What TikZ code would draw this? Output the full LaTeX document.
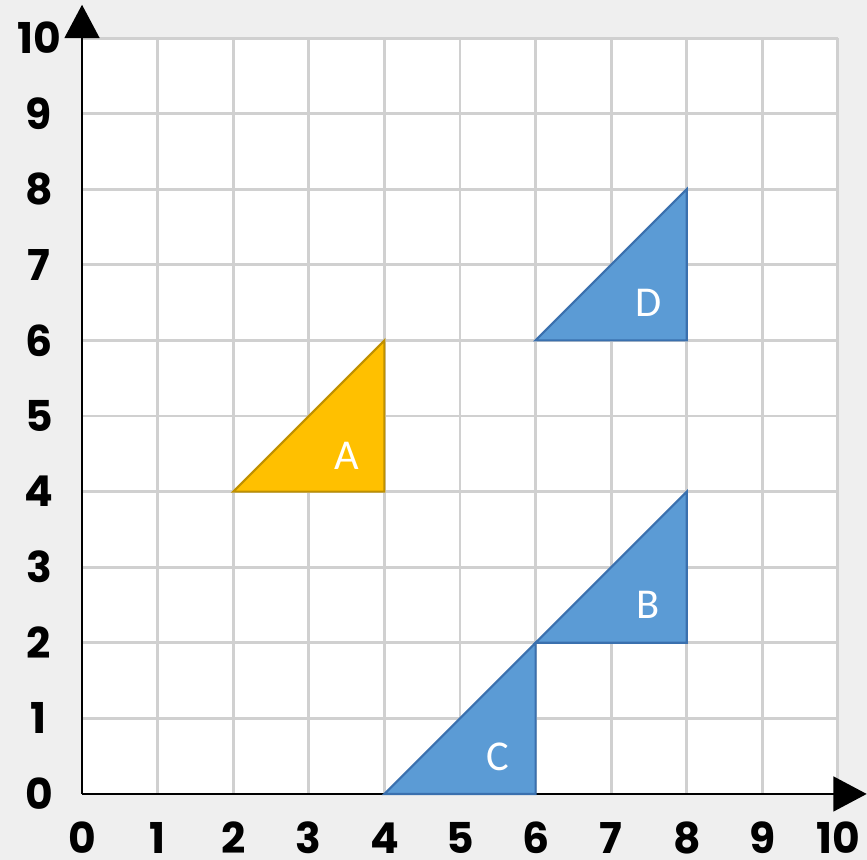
\documentclass[tikz,border=0pt]{standalone}
\usepackage{fontspec}
\setmainfont{Poppins}
\newfontfamily\tagfont{Carlito}
\usetikzlibrary{arrows.meta}
\definecolor{bggray}{HTML}{EFEFEF}
\definecolor{gridgray}{HTML}{D0D0D0}
\definecolor{gold}{HTML}{FFC000}
\definecolor{golddark}{HTML}{BF9000}
\definecolor{steel}{HTML}{5B9BD5}
\definecolor{steeldark}{HTML}{3A70AE}

\begin{document}
\begin{tikzpicture}[
    tick/.style={font=\fontsize{16}{16}\selectfont\bfseries, inner sep=1pt},
    axis/.style={-{Triangle[length=0.44cm,width=0.46cm]}, line width=0.8pt},
    gridline/.style={gridgray, line width=1.1pt},
    yellowtri/.style={fill=gold, draw=golddark, line width=0.8pt},
    bluetri/.style={fill=steel, draw=steeldark, line width=0.8pt},
    tag/.style={text=white, font=\tagfont\fontsize{16}{16}\selectfont}
]
\fill[bggray] (-1.085,-0.873) rectangle (10.384,10.503);
\useasboundingbox (-1.085,-0.873) rectangle (10.384,10.503);
\fill[white] (0,0) rectangle (10,10);
\draw[gridline] (0,0) grid (10,10);

\coordinate (origin) at (0,0);
\coordinate (xtip) at (10.38,0);
\coordinate (ytip) at (0,10.44);
\draw[axis] (origin) -- (xtip);
\draw[axis] (origin) -- (ytip);

\node[tick] (x0) at (0,-0.58) {0};
\node[tick] (x1) at (1,-0.58) {1};
\node[tick] (x2) at (2,-0.58) {2};
\node[tick] (x3) at (3,-0.58) {3};
\node[tick] (x4) at (4,-0.58) {4};
\node[tick] (x5) at (5,-0.58) {5};
\node[tick] (x6) at (6,-0.58) {6};
\node[tick] (x7) at (7,-0.58) {7};
\node[tick] (x8) at (8,-0.58) {8};
\node[tick] (x9) at (9,-0.58) {9};
\node[tick] (x10) at (10,-0.58) {10};
\node[tick] (y0) at (-0.57,0) {0};
\node[tick] (y1) at (-0.57,1) {1};
\node[tick] (y2) at (-0.57,2) {2};
\node[tick] (y3) at (-0.57,3) {3};
\node[tick] (y4) at (-0.57,4) {4};
\node[tick] (y5) at (-0.57,5) {5};
\node[tick] (y6) at (-0.57,6) {6};
\node[tick] (y7) at (-0.57,7) {7};
\node[tick] (y8) at (-0.57,8) {8};
\node[tick] (y9) at (-0.57,9) {9};
\node[tick] (y10) at (-0.56,10) {10};

\draw[yellowtri] (2,4) -- (4,4) -- (4,6) -- cycle;
\draw[bluetri] (6,2) -- (8,2) -- (8,4) -- cycle;
\draw[bluetri] (4,0) -- (6,0) -- (6,2) -- cycle;
\draw[bluetri] (6,6) -- (8,6) -- (8,8) -- cycle;
\node[tag] (triA) at (3.5,4.47) {A};
\node[tag] (triB) at (7.49,2.5) {B};
\node[tag] (triC) at (5.5,0.49) {C};
\node[tag] (triD) at (7.49,6.49) {D};
\end{tikzpicture}
\end{document}
